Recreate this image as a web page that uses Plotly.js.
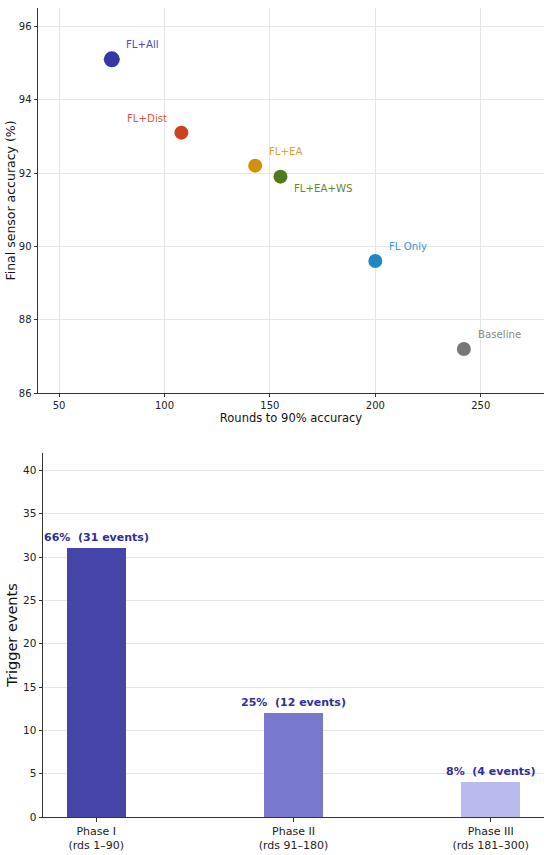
<!DOCTYPE html>
<html>
<head>
<meta charset="utf-8">
<script src="https://cdn.plot.ly/plotly-3.0.1.min.js"></script>
<style>html,body{margin:0;padding:0;background:#fff;}#chart{width:550px;height:855px;}</style>
</head>
<body>
<div id="chart"></div>
<script>
// ---- Data ----
const methods = ["FL+All", "FL+Dist", "FL+EA", "FL+EA+WS", "FL Only", "Baseline"];
const roundsTo90 = [75, 108, 143, 155, 200, 242];
const finalAccuracy = [95.1, 93.1, 92.2, 91.9, 89.6, 87.2];

const phases = ["Phase I<br>(rds 1–90)", "Phase II<br>(rds 91–180)", "Phase III<br>(rds 181–300)"];
const triggerEvents = [31, 12, 4];
const phaseShares = ["66%", "25%", "8%"];

// ---- Styles ----
const dotColors = ["#3636a6", "#cc4221", "#d4900a", "#4e7a1a", "#1f88c0", "#777777"];
const labelColors = ["#4d4dbf", "#d85a3a", "#e0a030", "#5f8a33", "#3a98cc", "#888888"];
const dotSizes = [16, 14, 14, 14, 14, 14];
const labelSide = ["right", "left", "right", "right", "right", "right"];
const labelUp = [15, 14, 14, -12, 14, 14];
const barColors = ["#4545a8", "#7878cc", "#babaee"];

const font = "DejaVu Sans, sans-serif";
const axisLine = "#333333";
const gridCol = "#e6e6e6";

const traces = [
  {
    type: "scatter", mode: "markers",
    x: roundsTo90, y: finalAccuracy,
    marker: {color: dotColors, size: dotSizes, opacity: 1, line: {width: 0}},
    xaxis: "x", yaxis: "y", showlegend: false, hoverinfo: "skip"
  },
  {
    type: "bar",
    x: phases, y: triggerEvents,
    marker: {color: barColors, line: {width: 0}},
    width: 0.3,
    xaxis: "x2", yaxis: "y2", showlegend: false, hoverinfo: "skip"
  }
];

const annotations = [];
methods.forEach((m, i) => {
  annotations.push({
    xref: "x", yref: "y", x: roundsTo90[i], y: finalAccuracy[i],
    text: m, showarrow: false,
    xanchor: labelSide[i] === "right" ? "left" : "right",
    yanchor: "middle",
    xshift: labelSide[i] === "right" ? 12 : -12,
    yshift: labelUp[i],
    font: {family: font, size: 10.2, color: labelColors[i]}
  });
});
phases.forEach((p, i) => {
  annotations.push({
    xref: "x2", yref: "y2", x: p, y: triggerEvents[i],
    text: "<b>" + phaseShares[i] + "  (" + triggerEvents[i] + " events)</b>",
    showarrow: false, xanchor: "center", yanchor: "bottom", yshift: 2,
    font: {family: font, size: 11, color: "#2e2e99"}
  });
});

const layout = {
  width: 550, height: 855,
  margin: {l: 0, r: 0, t: 0, b: 0},
  paper_bgcolor: "#ffffff", plot_bgcolor: "#ffffff",
  font: {family: font, size: 10, color: "#222222"},
  xaxis: {
    domain: [38/550, 544/550], anchor: "y",
    range: [40, 280], tickvals: [50, 100, 150, 200, 250],
    showgrid: true, gridcolor: gridCol, gridwidth: 1,
    zeroline: false, showline: true, linecolor: axisLine, linewidth: 1,
    ticks: "outside", ticklen: 3, tickcolor: axisLine,
    tickfont: {family: font, size: 10, color: "#222"},
    title: {text: "Rounds to 90% accuracy", font: {family: font, size: 11.5, color: "#111"}, standoff: 3},
    automargin: false
  },
  yaxis: {
    domain: [(855-393)/855, (855-8)/855], anchor: "x",
    range: [86, 96.5], tickvals: [86, 88, 90, 92, 94, 96],
    showgrid: true, gridcolor: gridCol, gridwidth: 1,
    zeroline: false, showline: true, linecolor: axisLine, linewidth: 1,
    ticks: "outside", ticklen: 3.5, tickcolor: axisLine,
    tickfont: {family: font, size: 10, color: "#222"},
    title: {text: "Final sensor accuracy (%)", font: {family: font, size: 12.5, color: "#111"}, standoff: 0},
    automargin: false
  },
  xaxis2: {
    domain: [43/550, 544/550], anchor: "y2",
    range: [-0.27, 2.27],
    showgrid: false, zeroline: false,
    showline: true, linecolor: axisLine, linewidth: 1,
    ticks: "outside", ticklen: 3.5, tickcolor: axisLine,
    tickfont: {family: font, size: 11, color: "#222"},
    automargin: false
  },
  yaxis2: {
    domain: [(855-817)/855, (855-453)/855], anchor: "x2",
    range: [0, 42], tickvals: [0, 5, 10, 15, 20, 25, 30, 35, 40],
    showgrid: true, gridcolor: gridCol, gridwidth: 1,
    zeroline: false, showline: true, linecolor: axisLine, linewidth: 1,
    ticks: "outside", ticklen: 3.5, tickcolor: axisLine,
    tickfont: {family: font, size: 10.5, color: "#222"},
    title: {text: "Trigger events", font: {family: font, size: 14.5, color: "#111"}, standoff: 1},
    automargin: false
  },
  annotations: annotations,
  bargap: 0
};

Plotly.newPlot("chart", traces, layout, {displayModeBar: false, staticPlot: true});
</script>
</body>
</html>
